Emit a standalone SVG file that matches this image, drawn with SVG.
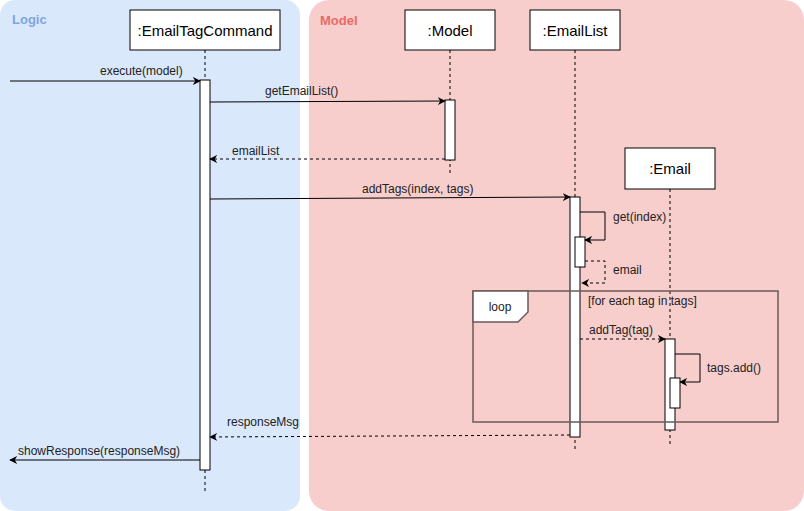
<svg xmlns="http://www.w3.org/2000/svg" width="804" height="511" viewBox="0 0 804 511">
<defs>
<marker id="ah" viewBox="0 0 10 10" refX="9" refY="5" markerWidth="8" markerHeight="8" markerUnits="userSpaceOnUse" orient="auto">
<path d="M0,0 L10,5 L0,10 L3,5 Z" fill="#000"/>
</marker>
<style>
text{font-family:"Liberation Sans",Arial,sans-serif;fill:#222}
.lbl{font-size:12px}
.ttl{font-size:15px;fill:#000}
.box{fill:#fff;stroke:#000;stroke-width:1}
.life{stroke:#000;stroke-dasharray:3,3;fill:none}
.act{fill:#fff;stroke:#000;stroke-width:1}
.msg{stroke:#000;fill:none;marker-end:url(#ah)}
.ret{stroke:#000;fill:none;stroke-dasharray:3,3;marker-end:url(#ah)}
</style>
</defs>
<rect x="0" y="0" width="300" height="511" rx="15" fill="#dae8fc"/>
<rect x="309" y="0" width="495" height="511" rx="20" fill="#f8cecc"/>
<text x="12" y="24" style="font-size:13px;font-weight:bold;fill:#7ea6e0">Logic</text>
<text x="320" y="25" style="font-size:13px;font-weight:bold;fill:#ea6b66">Model</text>

<g id="emailTagCommand">
<line class="life" x1="205" y1="50" x2="205" y2="492"/>
<rect class="box" x="130" y="10" width="150" height="40"/>
<text class="ttl" x="205" y="36" text-anchor="middle">:EmailTagCommand</text>
<rect class="act" x="200" y="80" width="10" height="390"/>
</g>
<g id="model">
<line class="life" x1="450" y1="50" x2="450" y2="176"/>
<rect class="box" x="405" y="10" width="90" height="40"/>
<text class="ttl" x="450" y="36" text-anchor="middle">:Model</text>
<rect class="act" x="445" y="100" width="10" height="60"/>
</g>
<g id="emailList">
<line class="life" x1="575" y1="50" x2="575" y2="452"/>
<rect class="box" x="530" y="10" width="90" height="40"/>
<text class="ttl" x="575" y="36" text-anchor="middle">:EmailList</text>
<rect class="act" x="570" y="197" width="10" height="240"/>
<rect class="act" x="575" y="237" width="10" height="30"/>
</g>
<g id="email">
<line class="life" x1="670" y1="189" x2="670" y2="445"/>
<rect class="box" x="625" y="148" width="90" height="41"/>
<text class="ttl" x="670" y="174" text-anchor="middle">:Email</text>
<rect class="act" x="665" y="339" width="10" height="91"/>
<rect class="act" x="670" y="378" width="10" height="30"/>
</g>
<g id="loopFrame">
<rect x="473" y="291" width="305" height="131" fill="none" stroke="#6b5a5a" stroke-width="1.5"/>
<path d="M473,291 H528 V312 L518,322 H473 Z" fill="#fff" stroke="#6b5a5a" stroke-width="1.5"/>
<text class="lbl" x="500" y="311" text-anchor="middle">loop</text>
<text class="lbl" x="588" y="305">[for each tag in tags]</text>
</g>

<g id="connectors">
<line class="msg" x1="10" y1="81" x2="200" y2="81"/>
<text class="lbl" x="100" y="75">execute(model)</text>
<line class="msg" x1="210" y1="102" x2="445" y2="101"/>
<text class="lbl" x="265" y="95">getEmailList()</text>
<line class="ret" x1="445" y1="159" x2="210" y2="159"/>
<text class="lbl" x="232" y="155">emailList</text>
<line class="msg" x1="210" y1="199" x2="570" y2="197"/>
<text class="lbl" x="362" y="193">addTags(index, tags)</text>
<path class="msg" d="M580,212 H605 V240 H585"/>
<text class="lbl" x="613" y="221">get(index)</text>
<path class="ret" d="M585,261 H605 V283 H582"/>
<text class="lbl" x="613" y="274">email</text>
<line class="ret" x1="580" y1="339" x2="665" y2="339"/>
<text class="lbl" x="589" y="334">addTag(tag)</text>
<path class="msg" d="M675,354 H700 V382 H680"/>
<text class="lbl" x="707" y="372">tags.add()</text>
<line class="ret" x1="570" y1="435" x2="210" y2="437"/>
<text class="lbl" x="227" y="426">responseMsg</text>
<line class="msg" x1="200" y1="460" x2="10" y2="460"/>
<text class="lbl" x="18" y="455">showResponse(responseMsg)</text>
</g>
</svg>
